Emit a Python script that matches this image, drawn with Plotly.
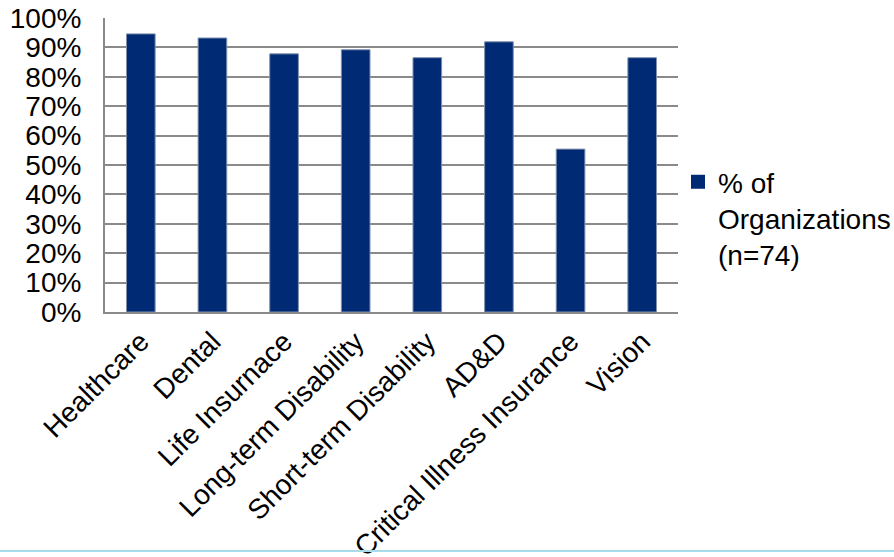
import plotly.graph_objects as go

# Benefit types offered and share of organizations offering each (n=74)
categories = [
    "Healthcare",
    "Dental",
    "Life Insurnace",
    "Long-term Disability",
    "Short-term Disability",
    "AD&D",
    "Critical Illness Insurance",
    "Vision",
]
pct_orgs = [94.6, 93.2, 87.8, 89.2, 86.5, 91.9, 55.4, 86.5]
series_name = "% of<br>Organizations<br>(n=74)"
y_ticks = list(range(0, 101, 10))
y_tick_labels = [f"{v}%" for v in y_ticks]

font_family = "Liberation Sans, Arial, sans-serif"
bar_color = "#002B74"

fig = go.Figure()
fig.add_trace(
    go.Bar(
        x=categories,
        y=pct_orgs,
        name=series_name,
        marker=dict(color=bar_color, line=dict(color="#8090B0", width=1)),
        width=0.4,
        showlegend=False,
    )
)
# Legend entry drawn with a larger square swatch
fig.add_trace(
    go.Scatter(
        x=[None],
        y=[None],
        mode="markers",
        name=series_name,
        marker=dict(symbol="square", size=14, color=bar_color),
        showlegend=True,
    )
)

fig.update_layout(
    width=894,
    height=557,
    margin=dict(l=105, r=216, t=18, b=245, autoexpand=False),
    paper_bgcolor="white",
    plot_bgcolor="white",
    font=dict(family=font_family, size=28, color="black"),
    showlegend=True,
    legend=dict(
        x=1.0,
        y=0.527,
        xanchor="left",
        yanchor="top",
        valign="top",
        font=dict(size=28),
        itemwidth=30,
        bgcolor="rgba(0,0,0,0)",
    ),
)

fig.update_yaxes(
    range=[0, 100],
    tickmode="array",
    tickvals=y_ticks,
    ticktext=y_tick_labels,
    showgrid=True,
    gridcolor="#8A8A8A",
    gridwidth=2,
    showline=True,
    linecolor="#8A8A8A",
    linewidth=2,
    zeroline=False,
    ticks="",
    ticklabelstandoff=16,
    automargin=False,
    tickfont=dict(size=28),
)

fig.update_xaxes(
    tickangle=-45,
    showline=True,
    linecolor="#8A8A8A",
    linewidth=2,
    showgrid=False,
    ticks="",
    automargin=False,
    tickfont=dict(size=28),
)

# Thin light-blue rule across the bottom of the page
fig.add_shape(
    type="line",
    xref="paper",
    yref="paper",
    x0=-1,
    x1=2,
    y0=-0.813,
    y1=-0.813,
    line=dict(color="#A8DCE8", width=2),
)

fig.write_html("out.html")
